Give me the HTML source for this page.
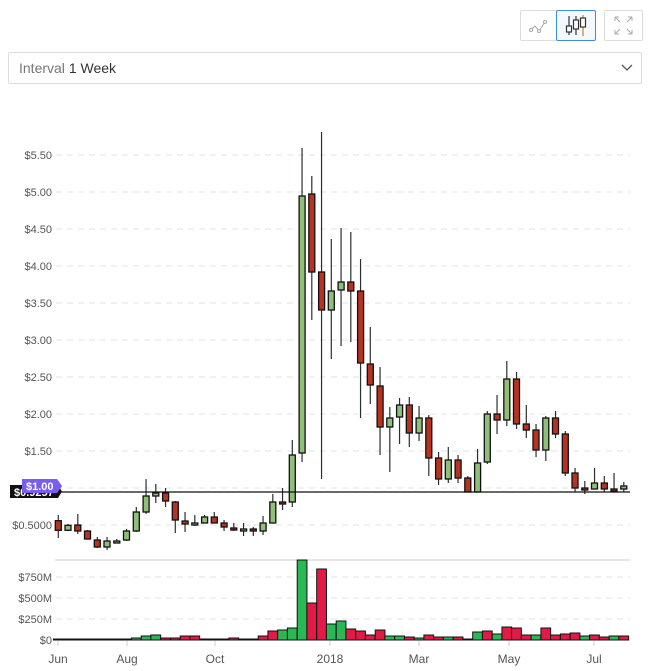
<!DOCTYPE html>
<html><head><meta charset="utf-8"><style>
body{margin:0;width:649px;height:671px;background:#fff;font-family:"Liberation Sans",sans-serif;overflow:hidden;position:relative}
.btn{position:absolute;top:10px;height:29px;border:1px solid #ddd;border-radius:2px;background:#fff}
.sel{position:absolute;left:8px;top:52px;width:632px;height:30px;border:1px solid #ddd;border-radius:2px}
</style></head><body>
<div class="btn" style="left:520px;width:35px"><svg width="35" height="29"><polyline points="10,19 14,15 18,20 24,11" fill="none" stroke="#aaa" stroke-width="1"/><circle cx="10" cy="19" r="1.5" fill="#fff" stroke="#aaa"/><circle cx="18" cy="20" r="1.5" fill="#fff" stroke="#aaa"/><circle cx="24" cy="11" r="1.5" fill="#fff" stroke="#aaa"/></svg></div>
<div class="btn" style="left:556px;width:38px;border-color:#3b8fd9;background:#f3f9ff"><svg width="38" height="29"><g stroke="#333" stroke-width="1.2" fill="#fff"><line x1="12" y1="5" x2="12" y2="24"/><rect x="9.5" y="15" width="5" height="6"/><line x1="19" y1="5" x2="19" y2="24"/><rect x="16.5" y="9" width="5" height="9"/></g><line x1="26" y1="4" x2="26" y2="25" stroke="#c9801f" stroke-width="1.2"/><rect x="23.5" y="7" width="5" height="9" fill="#fff" stroke="#333" stroke-width="1.2"/></svg></div>
<div class="btn" style="left:604px;width:37px"><svg width="37" height="29" stroke="#aaa" fill="none" stroke-width="1"><path d="M10 6h4M10 6v4M10 6l5 5M27 6h-4M27 6v4M27 6l-5 5M10 23h4M10 23v-4M10 23l5-5M27 23h-4M27 23v-4M27 23l-5-5"/></svg></div>
<div class="sel"><span style="position:absolute;left:10px;top:7px;font-size:14px;color:#777">Interval <span style="color:#333">1 Week</span></span>
<svg style="position:absolute;left:612px;top:10px" width="12" height="10"><polyline points="1,2 6,7 11,2" fill="none" stroke="#555" stroke-width="1.3"/></svg></div>
<svg id="c" width="649" height="671" style="position:absolute;left:0;top:0"></svg>
<script>
var s='';
var P=[[155,'$5.50'],[192,'$5.00'],[229,'$4.50'],[266,'$4.00'],[303,'$3.50'],[340,'$3.00'],[377,'$2.50'],[414,'$2.00'],[451,'$1.50'],[488,''],[525,'$0.5000']];
P.forEach(function(p){s+='<line x1="56" x2="630" y1="'+p[0]+'" y2="'+p[0]+'" stroke="#e3e3e8" stroke-dasharray="6,5"/>';if(p[1])s+='<text x="52" y="'+(p[0]+4)+'" text-anchor="end" font-size="11" fill="#555">'+p[1]+'</text>';});
[[577,'$750M'],[598,'$500M'],[619,'$250M'],[640,'$0']].forEach(function(p){if(p[1]!='$0')s+='<line x1="56" x2="630" y1="'+p[0]+'" y2="'+p[0]+'" stroke="#e3e3e8" stroke-dasharray="6,5"/>';s+='<text x="52" y="'+(p[0]+4)+'" text-anchor="end" font-size="11" fill="#555">'+p[1]+'</text>';});
s+='<line x1="55" x2="630" y1="560" y2="560" stroke="#ccc"/>';
s+='<line x1="55" x2="630" y1="640" y2="640" stroke="#ddd"/>';
// candles: open,close,high,low (y px), g/r
var C=[[520.7,530.3,515,538,'r'],[525.3,530.3,524,531,'g'],[525,531,514,534,'r'],[531,539,530,539,'r'],[540,547,537,548,'r'],[541,547,537,550,'g'],[541,543,539,543,'g'],[531,540,529,541,'g'],[512,531,507,532,'g'],[496,512,479,514,'g'],[493,496,484,503,'g'],[493,501,488,507,'r'],[502,520,501,533,'r'],[521,524,512,532,'r'],[523,525,515,526,'g'],[517,523,515,523,'g'],[517,523,512,523,'r'],[523,527,520,531,'r'],[528,530,523,531,'r'],[529,531,523,536,'g'],[529,531,527,536,'r'],[523,531,516,535,'g'],[502,523,494,523,'g'],[502,504,488,510,'r'],[455,502,440,507,'g'],
[196,453,148,462,'g'],[194,272,176,320,'r'],[272,310,132,479,'r'],[291,310,239,359,'g'],[282,290,228,346,'g'],[282,291,232,342,'r'],[291,363,259,418,'r'],[364,385,327,404,'r'],[386,427,367,455,'r'],[418,427,407,472,'g'],[405,417,398,444,'g'],[405,433,397,447,'r'],[418,433,406,441,'g'],[418,458,415,476,'r'],[458,479,452,485,'r'],[460,479,447,483,'g'],[460,478,455,483,'r'],[478,492,476,492,'r'],[463,492,449,492,'g'],[414,462,411,464,'g'],[414,420,395,434,'r'],[379,420,361,426,'g'],[379,424,372,429,'r'],[424,430,405,438,'r'],[430,450,424,457,'r'],[418,450,416,461,'g'],[418,434,411,438,'r'],[434,473,431,476,'r'],[473,488,468,492,'r'],[488,490,481,494,'r'],[483,489,468,489,'g'],[483,489,476,492,'r'],[489,491,473,492,'r'],[486,489,482,492,'g']];
var V=[639,639,639,639,639,639,639,639,638,636,635,638,638,636,636,639,639,639,638,639,639,636,631,630,628,560,603,569,624,621,629,631,635,630,636,636,637,638,635,637,637,637,639,632,631,634,627,628,635,635,628,635,634,633,636,635,637,636,636];
var VC='rggrrggggggrrrrggrrggrrgggrrggrrrrggrgrrgrggrgrrrgrrrrgrrg';
function X(i){return 58.3+i*9.75;}
V.forEach(function(v,i){var c=VC[i]=='g'?'#2bb755':'#e31a45';s+='<rect x="'+(X(i)-4.9).toFixed(1)+'" y="'+v+'" width="9.75" height="'+(640-v)+'" fill="'+c+'" stroke="#111" stroke-width="1"/>';});
C.forEach(function(d,i){var x=X(i),t=Math.min(d[0],d[1]),b=Math.max(d[0],d[1]);s+='<line x1="'+x+'" x2="'+x+'" y1="'+d[2]+'" y2="'+d[3]+'" stroke="#2a3030" stroke-width="1.2"/>';s+='<rect x="'+(x-3).toFixed(1)+'" y="'+t+'" width="6" height="'+Math.max(b-t,1.5)+'" fill="'+(d[4]=='g'?'#8fbf78':'#b83220')+'" stroke="#111" stroke-width="1.3"/>';});
s+='<line x1="10" x2="630" y1="492" y2="492" stroke="#111" stroke-width="1.2"/>';
s+='<path d="M10 485h48l4 6.5-4 6.5h-48z" fill="#111"/><text x="14" y="496" font-size="11" fill="#fff" font-weight="bold">$0.9257</text>';
s+='<path d="M22 479h35l5 7-5 7h-35z" fill="#7b5cf0"/><text x="26" y="490" font-size="11" fill="#fff" font-weight="bold">$1.00</text>';
[[58,'Jun'],[127,'Aug'],[215,'Oct'],[330,'2018'],[419,'Mar'],[509,'May'],[594,'Jul']].forEach(function(a){s+='<line x1="'+a[0]+'" x2="'+a[0]+'" y1="641" y2="646" stroke="#ccc"/><text x="'+a[0]+'" y="663" text-anchor="middle" font-size="12" fill="#555">'+a[1]+'</text>';});
document.getElementById('c').innerHTML=s;
</script>
</body></html>
